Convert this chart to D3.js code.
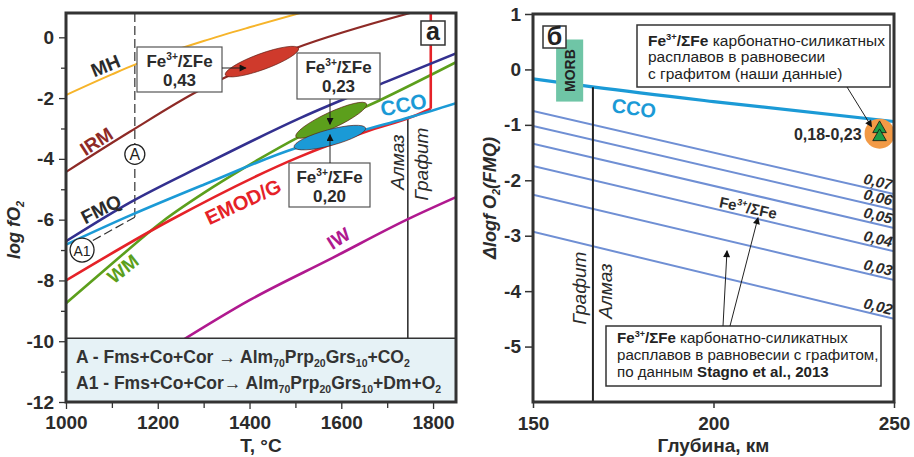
<!DOCTYPE html>
<html>
<head>
<meta charset="utf-8">
<script src="https://cdn.jsdelivr.net/npm/d3@7"></script>
<style>
  body { margin: 0; background: #fff; }
  svg { display: block; font-family: 'Liberation Sans', Arial, sans-serif; }
</style>
</head>
<body>
<svg id="chart" width="914" height="457"></svg>
<script>
// ---- Panel a: log fO2 vs T ----
const tempTicks = [1000, 1200, 1400, 1600, 1800];
const tempMinor = [1100, 1300, 1500, 1700];
const logTicks = [-12, -10, -8, -6, -4, -2, 0];
const logMinor = [-11, -9, -7, -5, -3, -1];

const mhCurve = [[1000, -1.9], [1100, -1.22], [1150, -0.9], [1200, -0.62], [1300, -0.12], [1400, 0.33], [1510, 0.8]];
const irmCurve = [[1000, -4.43], [1140, -3.1], [1290, -1.75], [1350, -1.3], [1500, -0.36], [1750, 0.8]];
const fmqCurve = [[1000, -6.71], [1140, -5.43], [1300, -4.2], [1510, -2.66], [1700, -1.45], [1850, -0.53]];
const ccoCurve = [[1000, -6.82], [1140, -5.86], [1300, -4.85], [1500, -3.65], [1650, -3.05], [1757, -2.6], [1850, -2.17]];
const wmCurve = [[1000, -8.75], [1100, -7.45], [1211, -6.05], [1320, -4.93], [1416, -4.05], [1506, -3.29], [1684, -2.07], [1850, -0.82]];
const emodCurve = [[1000, -8.0], [1227, -6.02], [1506, -3.95], [1655, -3.1], [1757, -2.6], [1795, -2.35]];
const emodVertical = [[1795, -2.35], [1795, 0.8]];
const iwCurve = [[1240, -10.1], [1400, -8.65], [1582, -7.25], [1743, -6.0], [1850, -5.26]];
const diamondGraphiteT = 1745;

// Fe3+/ΣFe fields (centre T, logfO2)
const feFields = [
  { name: 'red', t: 1427, v: -0.8, fill: '#cf3a2c', rx: 39, ry: 8, rot: -20 },
  { name: 'green', t: 1578, v: -2.73, fill: '#5c9f1c', rx: 39, ry: 8, rot: -25 },
  { name: 'blue', t: 1575, v: -3.3, fill: '#1b9ad6', rx: 37, ry: 8, rot: -15 }
];
const feLabels = ['0,43', '0,23', '0,20'];

// ---- Panel б: ΔlogfO2(FMQ) vs depth ----
const depthTicks = [150, 200, 250];
const dfmqTicks = [1, 0, -1, -2, -3, -4, -5];
const ccoDepth = [[150, -0.17], [167, -0.32], [200, -0.58], [250, -0.94]];
const feRatioLabels = ['0,07', '0,06', '0,05', '0,04', '0,03', '0,02'];
const feAt150 = [-0.75, -1.02, -1.34, -1.74, -2.26, -2.93];
const feAt250 = [-2.25, -2.53, -2.86, -3.28, -3.8, -4.5];
const graphiteDiamondDepth = 166.6;
const morbDepth = [156.4, 163.9];
const morbRange = [-0.58, 0.54];
const ourPoint = { depth: 246, value: -1.16, label: '0,18-0,23' };

const ink = '#2b2b2b';
const col = {
  mh: '#f6b42a', irm: '#8e2a26', fmq: '#33308f', cco: '#1b9ad6',
  wm: '#5c9f1c', emod: '#e52228', iw: '#b0198f', fe: '#6f8fd4'
};

const svg = d3.select('#chart');

const defs = svg.append('defs');
defs.append('marker')
  .attr('id', 'arrow')
  .attr('viewBox', '0 0 10 10')
  .attr('refX', 9).attr('refY', 5)
  .attr('markerWidth', 9).attr('markerHeight', 7)
  .attr('markerUnits', 'userSpaceOnUse')
  .attr('orient', 'auto')
  .append('path')
  .attr('d', 'M0,0 L10,5 L0,10 z')
  .attr('fill', '#111');

// text with sub/superscripts: parts = ['text'] or [text, 'sub'|'sup', weight]
function rich(g, x, y, parts, o) {
  const t = g.append('text')
    .attr('x', x).attr('y', y)
    .attr('font-size', o.size)
    .attr('font-weight', o.weight || 'bold')
    .attr('fill', o.fill || ink)
    .attr('text-anchor', o.anchor || 'start');
  if (o.italic) t.attr('font-style', 'italic');
  if (o.rotate) t.attr('transform', `rotate(${o.rotate},${x},${y})`);
  let shift = 0;
  parts.forEach((p) => {
    const [str, kind, w] = typeof p === 'string' ? [p] : p;
    const target = kind === 'sup' ? -0.4 * o.size : kind === 'sub' ? 0.22 * o.size : 0;
    const ts = t.append('tspan').attr('dy', target - shift).text(str);
    if (kind) ts.attr('font-size', o.size * 0.6);
    if (w) ts.attr('font-weight', w);
    shift = target;
  });
  return t;
}

const feParts = ['Fe', ['3+', 'sup'], '/ΣFe'];

// =================== LEFT PANEL ===================
const xL = d3.scaleLinear().domain([1000, 1850]).range([66, 456]);
const yL = d3.scaleLinear().domain([-12, 0.8]).range([402, 13]);

const gL = svg.append('g');
defs.append('clipPath').attr('id', 'clipL')
  .append('rect')
  .attr('x', xL(1000)).attr('y', yL(0.8))
  .attr('width', xL(1850) - xL(1000)).attr('height', yL(-12) - yL(0.8));

const plotL = gL.append('g').attr('clip-path', 'url(#clipL)');
const lineL = d3.line().x((d) => xL(d[0])).y((d) => yL(d[1])).curve(d3.curveMonotoneX);

// dashed reaction lines
plotL.append('line')
  .attr('x1', xL(1150)).attr('x2', xL(1150))
  .attr('y1', yL(0.8)).attr('y2', yL(-5.92))
  .attr('stroke', '#333').attr('stroke-width', 1.2).attr('stroke-dasharray', '9,4');
plotL.append('line')
  .attr('x1', xL(1150)).attr('y1', yL(-5.92))
  .attr('x2', xL(1052)).attr('y2', yL(-6.74))
  .attr('stroke', '#333').attr('stroke-width', 1.2).attr('stroke-dasharray', '9,4');

// graphite/diamond boundary
plotL.append('line')
  .attr('x1', xL(diamondGraphiteT)).attr('x2', xL(diamondGraphiteT))
  .attr('y1', yL(-2.62)).attr('y2', yL(-9.9))
  .attr('stroke', '#333').attr('stroke-width', 1.6);

const curves = [
  [mhCurve, col.mh, 2],
  [irmCurve, col.irm, 2.2],
  [iwCurve, col.iw, 2.6],
  [wmCurve, col.wm, 2.6],
  [emodCurve, col.emod, 2.6],
  [emodVertical, col.emod, 2.6],
  [ccoCurve, col.cco, 2.6],
  [fmqCurve, col.fmq, 2.6]
];
curves.forEach(([data, c, w]) => {
  plotL.append('path')
    .datum(data)
    .attr('d', data.length === 2 ? d3.line().x((d) => xL(d[0])).y((d) => yL(d[1]))(data) : lineL(data))
    .attr('fill', 'none').attr('stroke', c).attr('stroke-width', w);
});

// Fe3+ fields
feFields.forEach((f) => {
  plotL.append('ellipse')
    .attr('cx', xL(f.t)).attr('cy', yL(f.v))
    .attr('rx', f.rx).attr('ry', f.ry)
    .attr('transform', `rotate(${f.rot},${xL(f.t)},${yL(f.v)})`)
    .attr('fill', f.fill).attr('stroke', '#5a1a10').attr('stroke-width', 0.6);
});

// legend band at bottom
const bandTop = yL(-9.9);
gL.append('rect')
  .attr('x', xL(1000)).attr('y', bandTop)
  .attr('width', xL(1850) - xL(1000)).attr('height', yL(-12) - bandTop)
  .attr('fill', '#e6f2f6');
gL.append('line')
  .attr('x1', xL(1000)).attr('x2', xL(1850))
  .attr('y1', bandTop).attr('y2', bandTop)
  .attr('stroke', '#333').attr('stroke-width', 1.5);

rich(gL, 76, 363, ['A - Fms+Co+Cor → Alm', ['70', 'sub'], 'Prp', ['20', 'sub'], 'Grs', ['10', 'sub'], '+CO', ['2', 'sub']],
  { size: 17.5, fill: '#333' });
rich(gL, 76, 389, ['A1 - Fms+Co+Cor→ Alm', ['70', 'sub'], 'Prp', ['20', 'sub'], 'Grs', ['10', 'sub'], '+Dm+O', ['2', 'sub']],
  { size: 17.5, fill: '#333' });

// curve labels
const curveLabels = [
  ['MH', 108, 72, -22, ink, 19],
  ['IRM', 100, 147, -33, col.irm, 19],
  ['FMQ', 104, 215, -27, ink, 19],
  ['WM', 127, 274, -38, col.wm, 19],
  ['EMOD/G', 246, 208, -25, col.emod, 20],
  ['CCO', 405, 112, -11, col.cco, 21],
  ['IW', 342, 244, -32, col.iw, 19]
];
curveLabels.forEach(([txt, x, y, r, c, s]) => {
  gL.append('text')
    .attr('x', x).attr('y', y)
    .attr('text-anchor', 'middle')
    .attr('transform', `rotate(${r},${x},${y})`)
    .attr('font-size', s).attr('font-weight', 'bold')
    .attr('fill', c).text(txt);
});

// Алмаз / Графит
[['Алмаз', 404, 162], ['Графит', 428, 164]].forEach(([t, x, y]) => {
  gL.append('text')
    .attr('x', x).attr('y', y)
    .attr('text-anchor', 'middle')
    .attr('transform', `rotate(-90,${x},${y})`)
    .attr('font-size', 19).attr('font-style', 'italic')
    .attr('fill', ink).text(t);
});

// reaction circles
[['A', 1150, -3.85, 10], ['A1', 1035, -7.0, 12]].forEach(([t, T, v, r]) => {
  gL.append('circle')
    .attr('cx', xL(T)).attr('cy', yL(v)).attr('r', r)
    .attr('fill', '#fff').attr('stroke', '#222').attr('stroke-width', 1.3);
  gL.append('text')
    .attr('x', xL(T)).attr('y', yL(v) + 5.5)
    .attr('text-anchor', 'middle')
    .attr('font-size', t === 'A' ? 16 : 14)
    .attr('fill', '#222').text(t);
});

// Fe3+/ΣFe annotation boxes
const boxesL = [
  { x: 137, y: 47, w: 85, h: 45, label: feLabels[0] },
  { x: 297, y: 53, w: 83, h: 46, label: feLabels[1] },
  { x: 289, y: 163, w: 81, h: 44, label: feLabels[2] }
];
boxesL.forEach((b) => {
  gL.append('rect')
    .attr('x', b.x).attr('y', b.y).attr('width', b.w).attr('height', b.h)
    .attr('fill', '#fff').attr('stroke', '#555').attr('stroke-width', 1.2);
  rich(gL, b.x + b.w / 2, b.y + 20, feParts, { size: 17, anchor: 'middle', fill: ink });
  gL.append('text')
    .attr('x', b.x + b.w / 2).attr('y', b.y + 39)
    .attr('text-anchor', 'middle')
    .attr('font-size', 17).attr('font-weight', 'bold')
    .attr('fill', ink).text(b.label);
});
const arrowsL = [
  [222, 68, xL(feFields[0].t) - 16, 68],
  [330, 99, 330, yL(feFields[1].v) + 4],
  [330, 163, 330, yL(feFields[2].v) - 3]
];
arrowsL.forEach(([x1, y1, x2, y2]) => {
  gL.append('line')
    .attr('x1', x1).attr('y1', y1).attr('x2', x2).attr('y2', y2)
    .attr('stroke', '#222').attr('stroke-width', 1)
    .attr('marker-end', 'url(#arrow)');
});

// panel letter
gL.append('rect').attr('x', 421).attr('y', 21).attr('width', 24).attr('height', 24)
  .attr('fill', '#fff').attr('stroke', '#333').attr('stroke-width', 1.5);
gL.append('text').attr('x', 433).attr('y', 40).attr('text-anchor', 'middle')
  .attr('font-size', 25).attr('font-weight', 'bold').attr('fill', '#222').text('а');

// axes
const axL = gL.append('g').attr('transform', `translate(${xL(1000)},0)`)
  .call(d3.axisLeft(yL).tickValues(logTicks).tickFormat((d) => String(d)).tickSize(7).tickSizeOuter(0));
gL.append('g').attr('transform', `translate(${xL(1000)},0)`)
  .call(d3.axisLeft(yL).tickValues(logMinor).tickFormat('').tickSize(5).tickSizeOuter(0));
const axB = gL.append('g').attr('transform', `translate(0,${yL(-12)})`)
  .call(d3.axisBottom(xL).tickValues(tempTicks).tickFormat((d) => String(d)).tickSize(7).tickSizeOuter(0));
gL.append('g').attr('transform', `translate(0,${yL(-12)})`)
  .call(d3.axisBottom(xL).tickValues(tempMinor).tickFormat('').tickSize(6).tickSizeOuter(0));

gL.selectAll('.domain').remove();
gL.selectAll('.tick line').attr('stroke', '#333').attr('stroke-width', 1.3);
axL.selectAll('text').attr('font-size', 19).attr('font-weight', 'bold').attr('fill', ink)
  .attr('font-family', null).attr('dx', -2);
axB.selectAll('text').attr('font-size', 19).attr('font-weight', 'bold').attr('fill', ink)
  .attr('font-family', null).attr('dy', '0.92em');

gL.append('rect')
  .attr('x', xL(1000)).attr('y', yL(0.8))
  .attr('width', xL(1850) - xL(1000)).attr('height', yL(-12) - yL(0.8))
  .attr('fill', 'none').attr('stroke', '#333').attr('stroke-width', 3);

gL.append('text')
  .attr('x', (xL(1000) + xL(1850)) / 2).attr('y', 452)
  .attr('text-anchor', 'middle')
  .attr('font-size', 19).attr('font-weight', 'bold').attr('fill', ink)
  .text('T, °C');
rich(gL, 20, 230, ['log f', 'O', ['2', 'sub']], { size: 18, italic: true, anchor: 'middle', rotate: -90 });

// =================== RIGHT PANEL ===================
const xR = d3.scaleLinear().domain([150, 250]).range([533, 894]);
const yR = d3.scaleLinear().domain([-6, 1]).range([402, 14]);
const gR = svg.append('g');
defs.append('clipPath').attr('id', 'clipR')
  .append('rect')
  .attr('x', xR(150)).attr('y', yR(1))
  .attr('width', xR(250) - xR(150)).attr('height', yR(-6) - yR(1));
const plotR = gR.append('g').attr('clip-path', 'url(#clipR)');

// Fe3+/ΣFe isopleths (Stagno et al., 2013)
feRatioLabels.forEach((lab, i) => {
  const pts = [[150, feAt150[i]], [250, feAt250[i]]];
  plotR.append('path')
    .attr('d', d3.line().x((d) => xR(d[0])).y((d) => yR(d[1]))(pts))
    .attr('fill', 'none').attr('stroke', col.fe).attr('stroke-width', 2);
  const ang = Math.atan2(yR(feAt250[i]) - yR(feAt150[i]), xR(250) - xR(150)) * 180 / Math.PI;
  const lx = xR(249.2), ly = yR(feAt250[i]) - 4;
  gR.append('text')
    .attr('x', lx).attr('y', ly)
    .attr('text-anchor', 'end')
    .attr('transform', `rotate(${ang},${lx},${ly})`)
    .attr('font-size', 15).attr('font-weight', 'bold').attr('font-style', 'italic')
    .attr('fill', ink).text(lab);
});

// MORB
gR.append('rect')
  .attr('x', xR(morbDepth[0])).attr('y', yR(morbRange[1]))
  .attr('width', xR(morbDepth[1]) - xR(morbDepth[0]))
  .attr('height', yR(morbRange[0]) - yR(morbRange[1]))
  .attr('fill', '#6fc5a6');
const morbCx = xR((morbDepth[0] + morbDepth[1]) / 2);
const morbCy = yR((morbRange[0] + morbRange[1]) / 2);
gR.append('text')
  .attr('x', morbCx + 5).attr('y', morbCy)
  .attr('text-anchor', 'middle')
  .attr('transform', `rotate(-90,${morbCx + 5},${morbCy})`)
  .attr('font-size', 14).attr('font-weight', 'bold').attr('fill', '#222')
  .text('MORB');

// CCO
plotR.append('path')
  .datum(ccoDepth)
  .attr('d', d3.line().x((d) => xR(d[0])).y((d) => yR(d[1])).curve(d3.curveMonotoneX))
  .attr('fill', 'none').attr('stroke', col.cco).attr('stroke-width', 3.2);

// graphite/diamond boundary
plotR.append('line')
  .attr('x1', xR(graphiteDiamondDepth)).attr('x2', xR(graphiteDiamondDepth))
  .attr('y1', yR(-0.32)).attr('y2', yR(-6))
  .attr('stroke', '#222').attr('stroke-width', 2);

gR.append('text')
  .attr('x', 633).attr('y', 115)
  .attr('text-anchor', 'middle')
  .attr('transform', 'rotate(8,633,115)')
  .attr('font-size', 20).attr('font-weight', 'bold').attr('fill', col.cco)
  .text('CCO');

rich(gR, 747, 213, feParts, { size: 15, anchor: 'middle', rotate: 12, fill: ink });

[['Графит', 586, 288], ['Алмаз', 612, 291]].forEach(([t, x, y]) => {
  gR.append('text')
    .attr('x', x).attr('y', y)
    .attr('text-anchor', 'middle')
    .attr('transform', `rotate(-90,${x},${y})`)
    .attr('font-size', 19).attr('font-style', 'italic')
    .attr('fill', ink).text(t);
});

// our data point
const px = xR(ourPoint.depth), py = yR(ourPoint.value);
gR.append('circle').attr('cx', px).attr('cy', py).attr('r', 15).attr('fill', '#f29a46');
[-5, 3].forEach((dy) => {
  gR.append('path')
    .attr('d', d3.symbol(d3.symbolTriangle, 80)())
    .attr('transform', `translate(${px},${py + dy})`)
    .attr('fill', '#1e9e48').attr('stroke', '#111').attr('stroke-width', 0.8);
});
gR.append('text')
  .attr('x', px - 18).attr('y', py + 6)
  .attr('text-anchor', 'end')
  .attr('font-size', 16).attr('font-weight', 'bold').attr('fill', ink)
  .text(ourPoint.label);

// annotation boxes
function noteBox(x, y, w, h, lines, size) {
  gR.append('rect').attr('x', x).attr('y', y).attr('width', w).attr('height', h)
    .attr('fill', '#fff').attr('stroke', '#333').attr('stroke-width', 1.5);
  lines.forEach(([parts, by]) => rich(gR, x + 11, by, parts, { size, weight: 'normal', fill: '#222' }));
}
noteBox(637, 25, 253, 62, [
  [[['Fe', '', 'bold'], ['3+', 'sup', 'bold'], ['/ΣFe', '', 'bold'], ' карбонатно-силикатных'], 46],
  [['расплавов в равновесии'], 62],
  [['с графитом (наши данные)'], 79]
], 15.5);
noteBox(606, 326, 275, 60, [
  [[['Fe', '', 'bold'], ['3+', 'sup', 'bold'], ['/ΣFe', '', 'bold'], ' карбонатно-силикатных'], 343],
  [['расплавов в равновесии с графитом,'], 360],
  [['по данным ', ['Stagno et al., 2013', '', 'bold']], 377]
], 15.1);
[
  [847, 87, px - 8, py - 7],
  [723, 326, 727, yR(-3.2) + 4],
  [730, 326, 758, yR(-2.62) + 3]
].forEach(([x1, y1, x2, y2]) => {
  gR.append('line')
    .attr('x1', x1).attr('y1', y1).attr('x2', x2).attr('y2', y2)
    .attr('stroke', '#222').attr('stroke-width', 1)
    .attr('marker-end', 'url(#arrow)');
});

// panel letter
gR.append('rect').attr('x', 543).attr('y', 26).attr('width', 23).attr('height', 22)
  .attr('fill', '#fff').attr('stroke', '#333').attr('stroke-width', 1.5);
gR.append('text').attr('x', 554.5).attr('y', 45).attr('text-anchor', 'middle')
  .attr('font-size', 25).attr('font-weight', 'bold').attr('fill', '#222').text('б');

// axes
const axRL = gR.append('g').attr('transform', `translate(${xR(150)},0)`)
  .call(d3.axisLeft(yR).tickValues(dfmqTicks).tickFormat((d) => String(d)).tickSize(8).tickSizeOuter(0));
const axRB = gR.append('g').attr('transform', `translate(0,${yR(-6)})`)
  .call(d3.axisBottom(xR).tickValues(depthTicks).tickFormat((d) => String(d)).tickSize(6).tickSizeOuter(0));
gR.selectAll('.domain').remove();
gR.selectAll('.tick line').attr('stroke', '#333').attr('stroke-width', 1.5);
[axRL, axRB].forEach((a) => a.selectAll('text')
  .attr('font-size', 19).attr('font-weight', 'bold').attr('fill', ink).attr('font-family', null));
axRL.selectAll('text').attr('dx', -1);
axRB.selectAll('text').attr('dy', '1.0em');

gR.append('rect')
  .attr('x', xR(150)).attr('y', yR(1))
  .attr('width', xR(250) - xR(150)).attr('height', yR(-6) - yR(1))
  .attr('fill', 'none').attr('stroke', '#333').attr('stroke-width', 3);

gR.append('text')
  .attr('x', (xR(150) + xR(250)) / 2).attr('y', 452)
  .attr('text-anchor', 'middle')
  .attr('font-size', 19).attr('font-weight', 'bold').attr('fill', ink)
  .text('Глубина, км');
rich(gR, 496, 198, ['Δlogf O', ['2', 'sub'], '(FMQ)'], { size: 18, italic: true, anchor: 'middle', rotate: -90 });
</script>
</body>
</html>
